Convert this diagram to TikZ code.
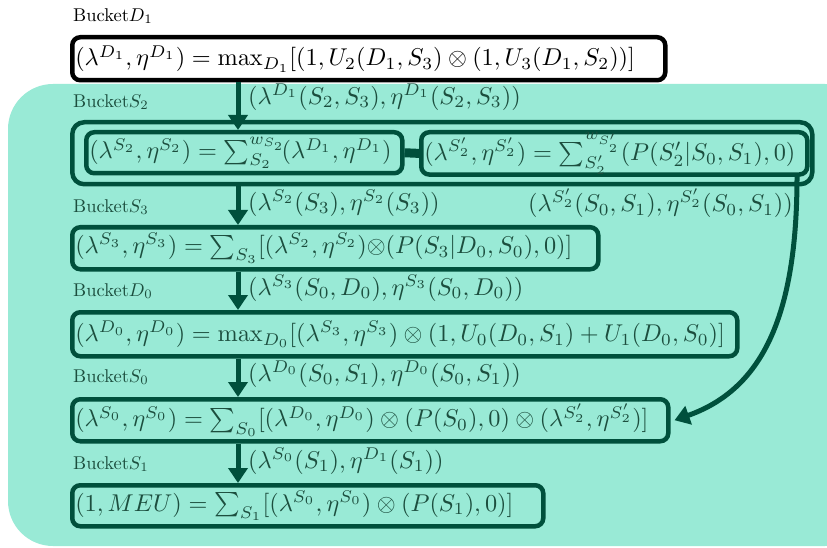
\documentclass[tikz,border=0pt]{standalone}
\usepackage{graphicx}
\usetikzlibrary{arrows.meta}
\definecolor{tealbg}{RGB}{153,234,214}
\definecolor{dkg}{RGB}{0,80,60}
\definecolor{txg}{RGB}{28,78,62}
\newcommand\fs{2.43}
\newcommand\F[1]{\scalebox{\fs}{$#1$}}
\newcommand\Bk[1]{\scalebox{1.85}{Bucket$#1$}}
\tikzset{
  bx/.style={draw=dkg, line width=4.5pt, rounded corners=8pt, anchor=north west,
    inner xsep=3pt, inner ysep=0pt, align=left, text=txg},
  lbl/.style={anchor=west, inner sep=0pt, text=txg},
  arr/.style={draw=dkg, line width=5pt, -{Triangle[length=15pt,width=19pt]}},
}
\begin{document}
\begin{tikzpicture}[x=1pt,y=-1pt]
\useasboundingbox (0,0) rectangle (827,548);
\fill[white] (0,0) rectangle (827,548);
% background region
\fill[tealbg, rounded corners=45pt] (8,84) rectangle (870,546);
\coordinate (ax) at (238,0);
\coordinate (cx) at (797,0);
% top bucket
\node[anchor=west, inner sep=0pt] (bd1) at (73,16) {\Bk{D_1}};
\node[bx, draw=black, fill=white, text=black, text width=587pt, minimum height=43pt] (d1) at (70,35)
  {\F{(\lambda^{D_1},\eta^{D_1}) = \max_{D_1}[(1,U_2(D_1,S_3)\otimes(1,U_3(D_1,S_2))]}};
% bucket S2
\node[lbl] (bs2) at (73,102) {\Bk{S_2}};
\node[bx, rounded corners=12pt, minimum width=740pt, minimum height=62pt] (s2) at (70,120) {};
\node[bx, text width=310pt, minimum height=41pt] (s2a) at (84,130)
  {\F{(\lambda^{S_2},\eta^{S_2}) = \sum_{S_2}^{w_{S_2}}\!(\lambda^{D_1},\eta^{D_1})}};
\node[bx, text width=380pt, minimum height=41pt] (s2b) at (419,130)
  {\F{(\lambda^{S'_2},\eta^{S'_2}) = \sum_{S'_2}^{w_{S'_2}}(P(S'_2|S_0,S_1),0)}};
\draw[dkg, line width=9pt] (s2a.east) -- (s2b.west);
% bucket S3
\node[lbl] (bs3) at (73,207) {\Bk{S_3}};
\node[bx, text width=520pt, minimum height=42pt] (s3) at (70,225)
  {\F{(\lambda^{S_3},\eta^{S_3}) = \sum_{S_3}[(\lambda^{S_2},\eta^{S_2}){\otimes}(P(S_3|D_0,S_0),0)]}};
% bucket D0
\node[lbl] (bd0) at (73,291) {\Bk{D_0}};
\node[bx, text width=659pt, minimum height=44pt] (d0) at (70,310)
  {\F{(\lambda^{D_0},\eta^{D_0}) = \max_{D_0}[(\lambda^{S_3},\eta^{S_3})\otimes(1,U_0(D_0,S_1)+U_1(D_0,S_0)]}};
% bucket S0
\node[lbl] (bs0) at (73,377) {\Bk{S_0}};
\node[bx, text width=590pt, minimum height=42pt] (s0) at (70,397)
  {\F{(\lambda^{S_0},\eta^{S_0}) = \sum_{S_0}[(\lambda^{D_0},\eta^{D_0})\otimes(P(S_0),0)\otimes(\lambda^{S'_2},\eta^{S'_2})]}};
% bucket S1
\node[lbl] (bs1) at (73,464) {\Bk{S_1}};
\node[bx, text width=465pt, minimum height=41pt] (s1) at (70,483)
  {\F{(1,MEU) = \sum_{S_1}[(\lambda^{S_0},\eta^{S_0})\otimes(P(S_1),0)]}};
% message labels
\node[lbl] (m1) at (248,97) {\F{(\lambda^{D_1}(S_2,S_3),\eta^{D_1}(S_2,S_3))}};
\node[lbl] (m2) at (248,203) {\F{(\lambda^{S_2}(S_3),\eta^{S_2}(S_3))}};
\node[lbl] (m2b) at (528,203) {\F{(\lambda^{S'_2}(S_0,S_1),\eta^{S'_2}(S_0,S_1))}};
\node[lbl] (m3) at (248,288) {\F{(\lambda^{S_3}(S_0,D_0),\eta^{S_3}(S_0,D_0))}};
\node[lbl] (m4) at (248,374) {\F{(\lambda^{D_0}(S_0,S_1),\eta^{D_0}(S_0,S_1))}};
\node[lbl] (m5) at (248,461) {\F{(\lambda^{S_0}(S_1),\eta^{D_1}(S_1))}};
% arrows
\draw[arr] (d1.south -| ax) -- (s2a.north -| ax);
\draw[arr] (s2.south -| ax) -- (s3.north -| ax);
\draw[arr] (s3.south -| ax) -- (d0.north -| ax);
\draw[arr] (d0.south -| ax) -- (s0.north -| ax);
\draw[arr] (s0.south -| ax) -- (s1.north -| ax);
\draw[arr] (s2b.south -| cx) .. controls (797,320) and (760,390) .. ([xshift=4pt]s0.east);
\end{tikzpicture}
\end{document}
